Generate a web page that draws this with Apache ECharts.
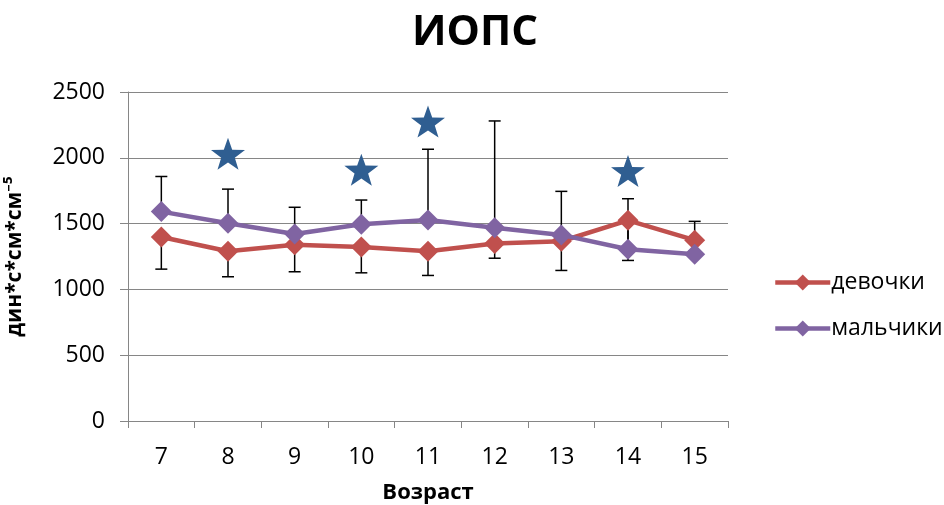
<!DOCTYPE html>
<html>
<head>
<meta charset="utf-8">
<script src="https://cdn.jsdelivr.net/npm/echarts@6/dist/echarts.min.js"></script>
<style>
  html, body { margin: 0; padding: 0; background: #fff; }
  #chart { width: 944px; height: 505px; }
</style>
</head>
<body>
<div id="chart"></div>
<script>
// Age groups (years)
const ages = ['7', '8', '9', '10', '11', '12', '13', '14', '15'];

// Mean ИОПС, дин*с*см*см⁻⁵
const girls = [1398, 1290, 1340, 1323, 1290, 1349, 1366, 1525, 1374];
const boys  = [1591, 1502, 1421, 1495, 1528, 1469, 1414, 1305, 1267];

// Standard deviations (girls drawn downward, boys upward)
const girlsSd = [244, 194, 206, 197, 184, 112, 222, 305, 80];
const boysSd  = [267, 260, 203, 184, 537, 811, 331, 384, 250];

// Significant difference markers
const starAges   = ['8', '10', '11', '14'];
const starValues = [2030, 1910, 2275, 1900];

const yTicks = { min: 0, max: 2500, step: 500 };

const FONT = '"Open Sans", "Noto Sans", sans-serif';
const RED = '#C0504D';
const PURPLE = '#8064A2';
const STAR_BLUE = '#2F5E91';
const AXIS_GRAY = '#868686';

function starSymbol() {
  let d = '';
  for (let k = 0; k < 10; k++) {
    const r = k % 2 ? 0.4 : 1;
    const a = (-90 + k * 36) * Math.PI / 180;
    d += (k ? 'L' : 'M') + (r * Math.cos(a)).toFixed(4) + ' ' + (r * Math.sin(a)).toFixed(4) + ' ';
  }
  return 'path://' + d + 'Z';
}

// [index, from, to, capAtTop]
const girlsBars = girls.map((v, i) => [i, v - girlsSd[i], v, 0]);
const boysBars  = boys.map((v, i) => [i, v, v + boysSd[i], 1]);

function renderErrorBar(params, api) {
  const i = api.value(0);
  const p1 = api.coord([i, api.value(1)]);
  const p2 = api.coord([i, api.value(2)]);
  const capY = api.value(3) ? p2[1] : p1[1];
  const half = 6;
  const style = { stroke: '#000', lineWidth: 1.5 };
  return {
    type: 'group',
    children: [
      { type: 'line', shape: { x1: p1[0], y1: p1[1], x2: p2[0], y2: p2[1] }, style },
      { type: 'line', shape: { x1: p1[0] - half, y1: capY, x2: p1[0] + half, y2: capY }, style }
    ]
  };
}

const chart = echarts.init(document.getElementById('chart'), null, { renderer: 'canvas' });

chart.setOption({
  backgroundColor: '#fff',
  animation: false,
  title: {
    text: 'ИОПС',
    left: 470,
    textAlign: 'center',
    top: 7,
    textStyle: { fontFamily: FONT, fontSize: 42, fontWeight: 'bold', color: '#000' }
  },
  legend: {
    data: ['девочки', 'мальчики'],
    orient: 'vertical',
    left: 768,
    top: 266,
    itemWidth: 55,
    itemHeight: 20,
    itemGap: 23,
    lineStyle: { width: 4.5 },
    textStyle: { fontFamily: FONT, fontSize: 23, color: '#000', padding: [0, 0, 0, -4] }
  },
  grid: { left: 128, right: 216, top: 92, bottom: 84, containLabel: false, outerBoundsMode: 'none' },
  xAxis: {
    type: 'category',
    data: ages,
    boundaryGap: true,
    name: 'Возраст',
    nameLocation: 'middle',
    nameGap: 61,
    nameTextStyle: { fontFamily: FONT, fontSize: 22, fontWeight: 'bold', color: '#000' },
    axisLine: { lineStyle: { color: AXIS_GRAY, width: 1 } },
    axisTick: { show: true, length: 7, alignWithLabel: false, interval: 0, lineStyle: { color: AXIS_GRAY } },
    axisLabel: { fontFamily: FONT, fontSize: 23, color: '#000', margin: 25, interval: 0 },
    splitLine: { show: false }
  },
  yAxis: {
    type: 'value',
    min: yTicks.min,
    max: yTicks.max,
    interval: yTicks.step,
    name: 'дин*с*см*см⁻⁵',
    nameLocation: 'middle',
    nameGap: 102,
    nameTextStyle: { fontFamily: FONT, fontSize: 21, fontWeight: 'bold', color: '#000' },
    axisLine: { show: true, lineStyle: { color: AXIS_GRAY, width: 1 } },
    axisTick: { show: true, length: 8, lineStyle: { color: AXIS_GRAY } },
    axisLabel: {
      fontFamily: FONT, fontSize: 23, color: '#000', margin: 23,
      formatter: (v) => String(v)
    },
    splitLine: { show: true, lineStyle: { color: AXIS_GRAY, width: 1 } }
  },
  series: [
    {
      type: 'custom',
      name: 'girlsSd',
      renderItem: renderErrorBar,
      data: girlsBars,
      z: 1,
      silent: true
    },
    {
      type: 'custom',
      name: 'boysSd',
      renderItem: renderErrorBar,
      data: boysBars,
      z: 1,
      silent: true
    },
    {
      name: 'девочки',
      type: 'line',
      data: girls,
      symbol: 'diamond',
      symbolSize: 21,
      lineStyle: { color: RED, width: 4.5 },
      itemStyle: { color: RED },
      z: 3
    },
    {
      name: 'мальчики',
      type: 'line',
      data: boys,
      symbol: 'diamond',
      symbolSize: 21,
      lineStyle: { color: PURPLE, width: 4.5 },
      itemStyle: { color: PURPLE },
      z: 4
    },
    {
      name: 'stars',
      type: 'scatter',
      data: starAges.map((a, i) => [a, starValues[i]]),
      symbol: starSymbol(),
      symbolSize: [34, 32],
      itemStyle: { color: STAR_BLUE, opacity: 1 },
      z: 5
    }
  ]
});
</script>
</body>
</html>
